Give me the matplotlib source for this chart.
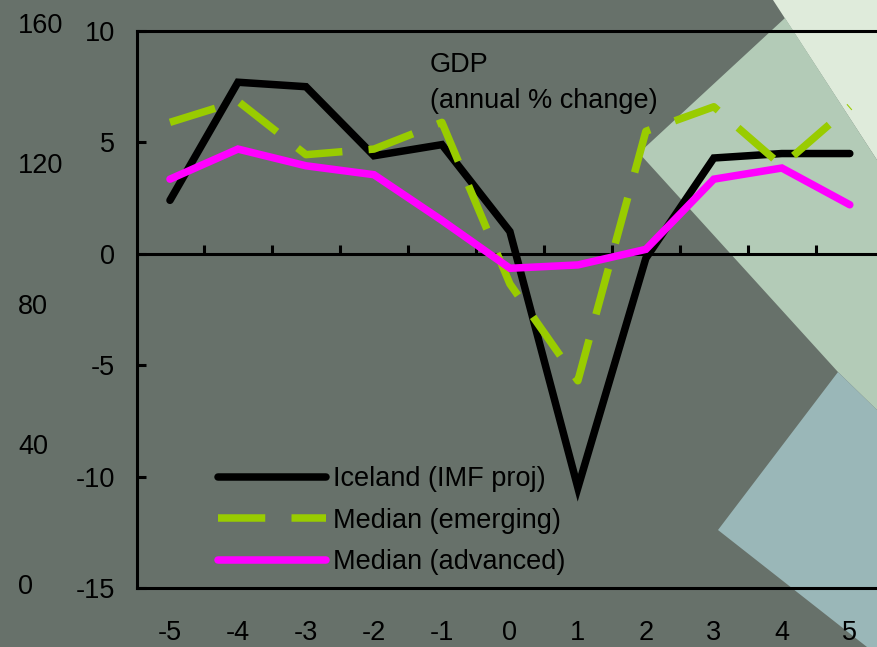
import matplotlib.pyplot as plt
from matplotlib.patches import Polygon
from matplotlib.lines import Line2D
import numpy as np

# GDP, annual % change, years around the crisis year (0)
years = [-5, -4, -3, -2, -1, 0, 1, 2, 3, 4, 5]
iceland = [2.4, 7.7, 7.5, 4.4, 4.9, 1.0, -10.5, -0.2, 4.3, 4.5, 4.5]
emerging = [5.9, 6.85, 4.45, 4.7, 5.9, -1.35, -5.7, 5.5, 6.6, 3.95, 6.6]
advanced = [3.35, 4.7, 3.95, 3.55, 1.5, -0.65, -0.5, 0.2, 3.35, 3.85, 2.2]
series_labels = ['Iceland (IMF proj)', 'Median (emerging)', 'Median (advanced)']
left_ticks = [10, 5, 0, -5, -10, -15]
outer_ticks = [0, 40, 80, 120, 160]

BG = '#67716a'
W, H = 877, 647

plt.rcParams['font.family'] = ['Liberation Sans', 'DejaVu Sans']
fs = 19.5

fig = plt.figure(figsize=(W / 100, H / 100), dpi=100, facecolor=BG)


def fpt(x, y):
    # pixel position (top-left origin) -> figure fraction
    return (x / W, 1 - y / H)


# light shapes in the right-hand corner
shapes = [
    ([(773, 0), (877, 0), (877, 160)], '#dfebdb'),
    ([(785, 18), (877, 160), (877, 410), (838, 372), (639, 153)], '#b3cbb7'),
    ([(838, 372), (877, 410), (877, 647), (867, 647), (718, 530)], '#9ab7b8'),
]
for pts, col in shapes:
    fig.patches.append(Polygon([fpt(*p) for p in pts], closed=True, facecolor=col,
                               edgecolor='none', transform=fig.transFigure, zorder=-5))

ax = fig.add_axes([137 / W, 1 - 588 / H, 1 - 137 / W, (588 - 31) / H])
ax.set_zorder(1)
ax.set_facecolor('none')
ax.set_xlim(-5.485, 5.4)
ax.set_ylim(-15, 10)

ax.plot(years, iceland, color='black', lw=5.4, solid_capstyle='round',
        solid_joinstyle='miter', zorder=3)
ax.plot(years, emerging, color='#99cc00', lw=5.4, dashes=(6.3, 3.5),
        dash_capstyle='butt', zorder=4)
ax.plot(years, advanced, color='#ff00ff', lw=5.4, solid_capstyle='round',
        solid_joinstyle='miter', zorder=5)

# zero line with small tick marks between years
ax.axhline(0, color='black', lw=2.2, zorder=2)
ax.vlines(np.arange(-4.5, 5), 0, 0.4, color='black', lw=2.2, zorder=2)

ax.spines['right'].set_visible(False)
for side in ['left', 'top', 'bottom']:
    ax.spines[side].set_linewidth(2.2)
    ax.spines[side].set_color('black')

ax.set_yticks(left_ticks)
ax.set_yticklabels([str(t) for t in left_ticks])
ax.tick_params(axis='y', direction='in', length=6.5, width=2.2, pad=16, labelsize=fs,
               colors='black')
ax.set_xticks(years)
ax.set_xticklabels([str(y) for y in years])
ax.tick_params(axis='x', length=0, pad=23, labelsize=fs, colors='black')

ax.text(430 / W, 1 - 52 / H, 'GDP\n(annual % change)', transform=fig.transFigure,
        fontsize=fs, va='top', ha='left', linespacing=1.5, color='black')

handles = [
    Line2D([], [], color='black', lw=5.4, solid_capstyle='round'),
    Line2D([], [], color='#99cc00', lw=5.4, dashes=(6.3, 3.5), dash_capstyle='butt'),
    Line2D([], [], color='#ff00ff', lw=5.4, solid_capstyle='round'),
]
ax.legend(handles, series_labels, loc='upper left', bbox_to_anchor=fpt(218, 466),
          bbox_transform=fig.transFigure, frameon=False, fontsize=fs,
          handlelength=4.0, handletextpad=0.25, labelspacing=0.58, borderpad=0,
          borderaxespad=0)

# outer left scale
ax2 = fig.add_axes([18 / W, 1 - 584 / H, 0.0001, (584 - 23) / H])
ax2.set_ylim(0, 160)
ax2.set_facecolor('none')
for s in ax2.spines.values():
    s.set_visible(False)
ax2.set_xticks([])
ax2.yaxis.tick_right()
ax2.set_yticks(outer_ticks)
ax2.set_yticklabels([str(t) for t in outer_ticks])
ax2.tick_params(axis='y', length=0, pad=0, labelsize=fs, colors='black')

fig.savefig('out.png', dpi=100, facecolor=BG)
